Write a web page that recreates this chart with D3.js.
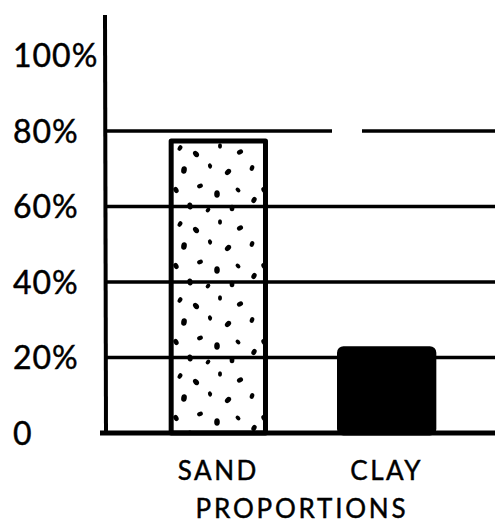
<!DOCTYPE html>
<html>
<head>
<meta charset="utf-8">
<script src="https://cdn.jsdelivr.net/npm/d3@7"></script>
<style>
  html, body { margin: 0; padding: 0; background: #fff; }
  svg { display: block; }
  text { font-family: Lato, "Open Sans", sans-serif; fill: #000; stroke: #000; stroke-width: 0.45px; }
</style>
</head>
<body>
<svg id="chart" width="495" height="524"></svg>
<script>
// Soil make-up: share of sand vs clay
const categories = ["SAND", "CLAY"];
const values = [78, 23];
const tickValues = [0, 20, 40, 60, 80, 100];
const tickLabels = ["0", "20%", "40%", "60%", "80%", "100%"];
const gridValues = [20, 40, 60, 80];
const axisTitle = "PROPORTIONS";

const svg = d3.select("#chart");
const W = 495, H = 524;

const y = d3.scaleLinear().domain([0, 100]).range([433, 55.5]);
const x = d3.scaleBand().domain(categories)
  .range([135, 470]).paddingInner(0.41).paddingOuter(0.2);

// Stipple texture for the sand column: sparse ink blobs
const defs = svg.append("defs");
const pat = defs.append("pattern")
  .attr("id", "stipple").attr("patternUnits", "userSpaceOnUse")
  .attr("x", 170).attr("y", 140)
  .attr("width", 88).attr("height", 76);
pat.append("rect").attr("width", 88).attr("height", 76).attr("fill", "#fff");
const dots = [
  [10, 8, 2.2, 30], [26, 14, 2.6, -40], [50, 6, 2.0, 0], [70, 12, 2.4, 60],
  [82, 28, 2.2, 20], [14, 30, 2.8, 10], [40, 26, 2.0, -20], [58, 32, 2.6, 45],
  [6, 50, 2.4, -30], [30, 46, 2.2, 70], [47, 54, 2.8, 0], [68, 50, 2.0, -50],
  [84, 60, 2.4, 30], [20, 66, 2.6, -10], [38, 70, 2.0, 40], [62, 68, 2.4, 0]
];
pat.selectAll("ellipse").data(dots).join("ellipse")
  .attr("transform", d => `translate(${d[0]},${d[1]}) rotate(${d[3]})`)
  .attr("rx", d => d[2]).attr("ry", d => d[2] * 1.35)
  .attr("fill", "#000");

// Columns
const fills = { SAND: "url(#stipple)", CLAY: "#000" };
svg.append("g").selectAll("rect")
  .data(categories.map((c, i) => ({ c, v: values[i] })))
  .join("rect")
  .attr("x", d => x(d.c) + 2.5)
  .attr("y", d => y(d.v) + 2.5)
  .attr("width", x.bandwidth() - 5)
  .attr("height", d => y(0) - y(d.v) - 2.5)
  .attr("rx", d => d.c === "CLAY" ? 4 : 0)
  .attr("fill", d => fills[d.c])
  .attr("stroke", "#000")
  .attr("stroke-width", 5)
  .attr("stroke-linejoin", "round");

// Horizontal rules
svg.append("g").selectAll("line").data(gridValues).join("line")
  .attr("x1", 105).attr("x2", W)
  .attr("y1", d => y(d)).attr("y2", d => y(d))
  .attr("stroke", "#000").attr("stroke-width", 3.5)
  .attr("stroke-dasharray", d => d === 80 ? "227 30 400" : null);

// Vertical axis and baseline
svg.append("line")
  .attr("x1", 105).attr("x2", 106).attr("y1", 15).attr("y2", y(0))
  .attr("stroke", "#000").attr("stroke-width", 4);
svg.append("line")
  .attr("x1", 100).attr("x2", W).attr("y1", y(0)).attr("y2", y(0))
  .attr("stroke", "#000").attr("stroke-width", 5);

// Tick labels
svg.append("g").selectAll("text").data(tickValues).join("text")
  .attr("x", 13).attr("y", d => y(d))
  .attr("dy", "0.36em")
  .attr("font-size", 32)
  .attr("letter-spacing", 1)
  .text((d, i) => tickLabels[i]);

// Category labels
svg.append("g").selectAll("text").data(categories).join("text")
  .attr("x", d => x(d) + x.bandwidth() / 2)
  .attr("y", 480)
  .attr("text-anchor", "middle")
  .attr("font-size", 26)
  .attr("letter-spacing", 2.5)
  .text(d => d);

svg.append("text")
  .attr("x", 302).attr("y", 518)
  .attr("text-anchor", "middle")
  .attr("font-size", 26)
  .attr("letter-spacing", 2.8)
  .text(axisTitle);
</script>
</body>
</html>
